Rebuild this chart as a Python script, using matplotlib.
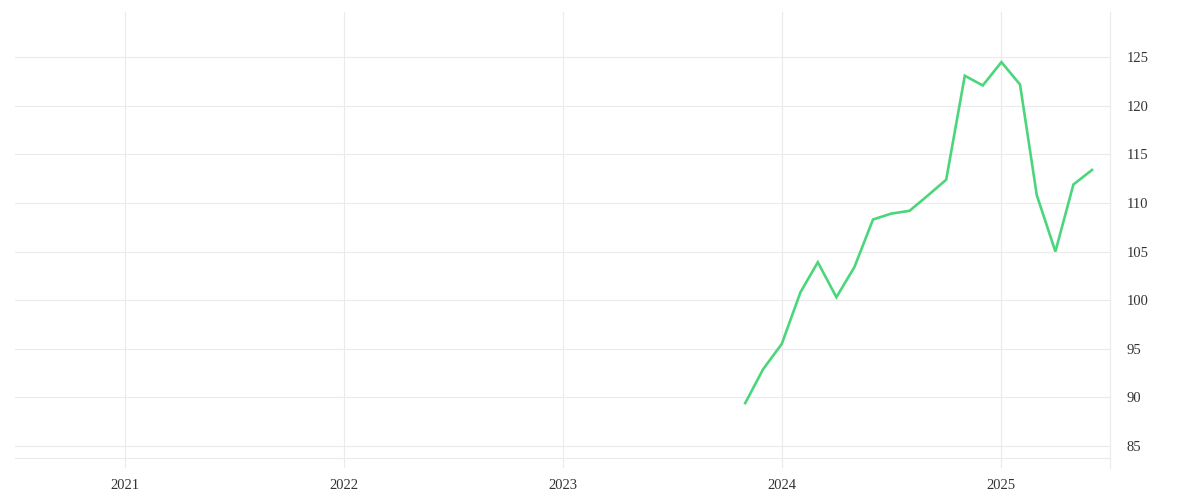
import matplotlib.pyplot as plt
import matplotlib.dates as mdates
import pandas as pd

# monthly values, Nov 2023 - Jun 2025
months = pd.date_range('2023-11-01', '2025-06-01', freq='MS')
values = [89.4, 92.9, 95.5, 100.8, 103.9, 100.3, 103.4, 108.3, 108.9, 109.2,
          110.8, 112.4, 123.1, 122.1, 124.5, 122.2, 110.8, 105.0, 111.9, 113.4]
year_ticks = ['2021', '2022', '2023', '2024', '2025']
y_ticks = [85, 90, 95, 100, 105, 110, 115, 120, 125]

grid_col = '#ebebeb'

fig = plt.figure(figsize=(12, 5), dpi=100)
ax = fig.add_axes([15/1200, 32/500, 1095/1200, 456/500])

ax.plot(months, values, color='#4cd67c', lw=1.9, solid_joinstyle='miter')

ax.set_xlim(pd.Timestamp('2020-07-02'), pd.Timestamp('2025-07-01'))
ax.set_ylim(82.72, 129.66)

ax.set_xticks([pd.Timestamp(y + '-01-01') for y in year_ticks])
ax.xaxis.set_major_formatter(mdates.DateFormatter('%Y'))
ax.set_yticks(y_ticks)
ax.yaxis.tick_right()

ax.grid(True, color=grid_col, lw=0.8)
ax.axhline(83.75, color=grid_col, lw=0.8)

for side in ['top', 'left', 'bottom']:
    ax.spines[side].set_visible(False)
ax.spines['right'].set_color(grid_col)
ax.spines['right'].set_linewidth(0.8)

ax.tick_params(axis='both', length=0, labelsize=10.5, labelcolor='#333333')
ax.tick_params(axis='x', pad=8)
ax.tick_params(axis='y', pad=12)
for lab in ax.get_xticklabels() + ax.get_yticklabels():
    lab.set_family('Liberation Serif')
for lab in ax.get_yticklabels():
    lab.set_va('center_baseline')

fig.savefig('out.png', dpi=100)
